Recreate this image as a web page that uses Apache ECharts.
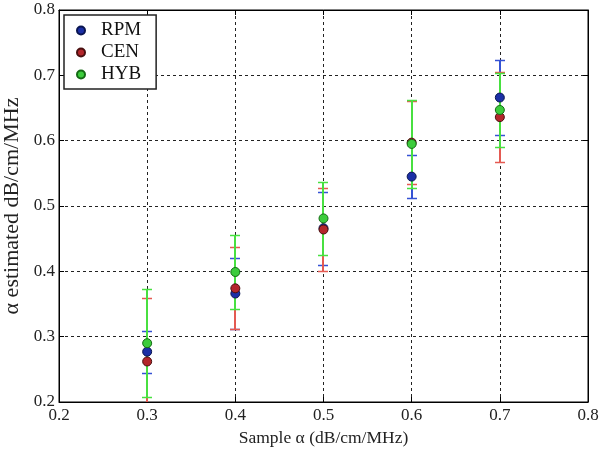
<!DOCTYPE html>
<html><head><meta charset="utf-8">
<script src="https://cdn.jsdelivr.net/npm/echarts@6/dist/echarts.min.js"></script>
<style>html,body{margin:0;padding:0;background:#fff}#c{width:600px;height:452px}</style>
</head><body><div id="c"></div>
<script>
var samples = [0.3, 0.4, 0.5, 0.6, 0.7];
var rpmMean = [0.277, 0.366, 0.466, 0.545, 0.666];
var rpmErr  = [0.032, 0.054, 0.056, 0.033, 0.057];
var cenMean = [0.262, 0.374, 0.464, 0.597, 0.636];
var cenErr  = [0.097, 0.063, 0.064, 0.063, 0.069];
var hybMean = [0.290, 0.399, 0.481, 0.595, 0.647];
var hybErr  = [0.083, 0.057, 0.056, 0.068, 0.056];
var seriesNames = ['RPM', 'CEN', 'HYB'];
var xTicks = [0.2, 0.3, 0.4, 0.5, 0.6, 0.7, 0.8];

var FONT = 'Liberation Serif';
var dotColors = ['#1b2fa6', '#b3262b', '#3ccc3c'];
var dotEdges = ['#0a1550', '#4a1010', '#146a14'];
var barColors = ['#3552d4', '#e45a52', '#48e040'];

function pairs(m, e) {
  return samples.map(function (x, i) { return [x, m[i], e[i]]; });
}
function errSeries(m, e, col) {
  return {
    type: 'custom', clip: true, silent: true, z: 3,
    data: pairs(m, e),
    renderItem: function (params, api) {
      var x = api.value(0), y = api.value(1), er = api.value(2);
      var top = api.coord([x, y + er]);
      var bot = api.coord([x, y - er]);
      var cx = Math.round(top[0]);
      var ty = Math.round(top[1]) + 0.5, by = Math.round(bot[1]) + 0.5;
      var hw = 5;
      return { type: 'group', children: [
        { type: 'line', shape: { x1: cx, y1: ty, x2: cx, y2: by }, style: { stroke: col, lineWidth: 2 } },
        { type: 'line', shape: { x1: cx - hw, y1: ty, x2: cx + hw, y2: ty }, style: { stroke: col, lineWidth: 1.5 } },
        { type: 'line', shape: { x1: cx - hw, y1: by, x2: cx + hw, y2: by }, style: { stroke: col, lineWidth: 1.5 } }
      ]};
    }
  };
}
function dotSeries(name, m, i) {
  return {
    name: name, type: 'scatter', z: 5, symbol: 'circle', symbolSize: 9,
    data: samples.map(function (x, k) { return [x, m[k]]; }),
    itemStyle: { color: dotColors[i], borderColor: dotEdges[i], borderWidth: 1, opacity: 1 }
  };
}

var chart = echarts.init(document.getElementById('c'), null, { renderer: 'canvas' });
var axisCommon = {
  min: 0.2, max: 0.8, interval: 0.1,
  axisLine: { show: true, onZero: false, lineStyle: { color: '#000', width: 1 } },
  axisTick: { show: true, inside: true, length: 5, lineStyle: { color: '#000' } },
  splitLine: { show: true, lineStyle: { color: '#222', type: [3, 3], width: 1 } }
};
chart.setOption({
  animation: false,
  backgroundColor: '#fff',
  grid: { left: 59, right: 12, top: 10, bottom: 50, show: true, borderColor: '#000', borderWidth: 1,
          containLabel: false, outerBoundsMode: 'none' },
  legend: {
    left: 64, top: 15, orient: 'vertical',
    data: seriesNames,
    icon: 'circle', itemWidth: 24, itemHeight: 8, itemGap: 3,
    backgroundColor: '#fff', borderColor: '#222', borderWidth: 1.5,
    padding: [6, 15, 5, 12],
    textStyle: { fontFamily: FONT, fontSize: 19, color: '#111', padding: [0, 0, 0, 3] }
  },
  xAxis: [
    Object.assign({}, axisCommon, {
      type: 'value', position: 'bottom',
      name: 'Sample \u03b1 (dB/cm/MHz)', nameLocation: 'middle', nameGap: 27,
      nameTextStyle: { fontFamily: FONT, fontSize: 17.5, color: '#222' },
      axisLabel: { fontFamily: FONT, fontSize: 17, color: '#222', margin: 5,
        formatter: function (v) { return xTicks.indexOf(Math.round(v * 10) / 10) >= 0 ? (Math.round(v * 10) / 10).toFixed(1) : ''; } }
    }),
    Object.assign({}, axisCommon, { type: 'value', position: 'top', axisLabel: { show: false }, splitLine: { show: false } })
  ],
  yAxis: [
    Object.assign({}, axisCommon, {
      type: 'value', position: 'left',
      name: '\u03b1 estimated dB/cm/MHz', nameLocation: 'middle', nameGap: 24,
      nameTextStyle: { fontFamily: FONT, fontSize: 22, color: '#222' },
      axisLabel: { fontFamily: FONT, fontSize: 17, color: '#222', margin: 4,
        formatter: function (v) { return v.toFixed(1); } }
    }),
    Object.assign({}, axisCommon, { type: 'value', position: 'right', axisLabel: { show: false }, splitLine: { show: false } })
  ],
  series: [
    errSeries(rpmMean, rpmErr, barColors[0]),
    errSeries(cenMean, cenErr, barColors[1]),
    errSeries(hybMean, hybErr, barColors[2]),
    dotSeries('RPM', rpmMean, 0),
    dotSeries('CEN', cenMean, 1),
    dotSeries('HYB', hybMean, 2)
  ]
});
</script>
</body></html>
